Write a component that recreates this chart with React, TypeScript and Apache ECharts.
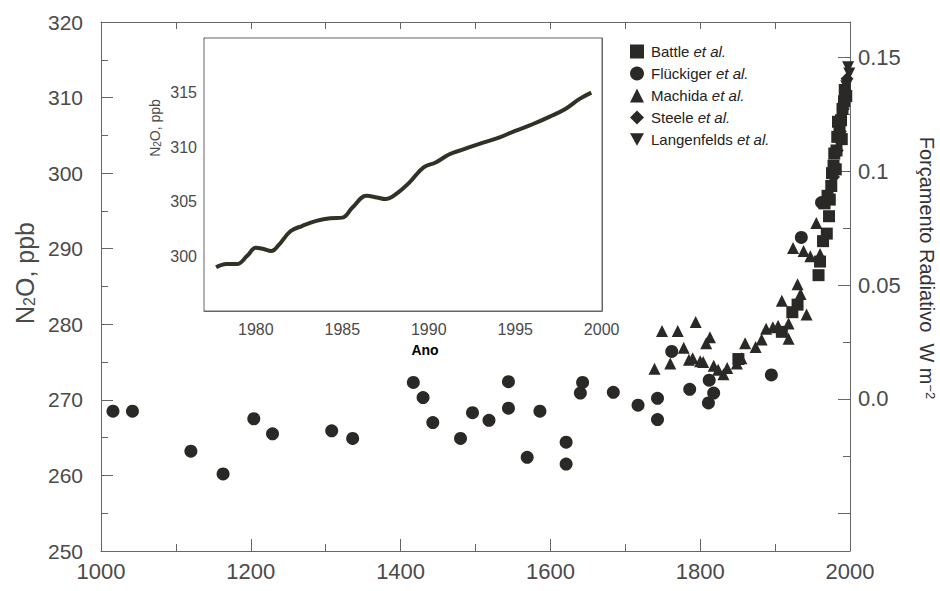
import React, { useEffect, useRef } from 'react';
import * as echarts from 'echarts';

// ---- Main panel data (year, N2O ppb) ----
const battleYears = [1851, 1909, 1923, 1930, 1958, 1960, 1964, 1969, 1966, 1970, 1972, 1973, 1975, 1976, 1978, 1979, 1981, 1982, 1983, 1984, 1986, 1988, 1989, 1990, 1992, 1993, 1995];
const battlePpb = [275.4, 279.0, 281.6, 282.6, 286.5, 288.3, 291.0, 292.0, 296.0, 297.0, 294.3, 296.5, 298.3, 300.0, 301.0, 302.6, 300.5, 303.0, 304.8, 306.8, 305.5, 307.0, 304.5, 308.5, 309.5, 311.0, 310.2];

const flueckigerYears = [1016, 1042, 1120, 1163, 1204, 1229, 1308, 1336, 1417, 1430, 1443, 1480, 1496, 1518, 1544, 1544, 1569, 1586, 1621, 1621, 1640, 1643, 1684, 1717, 1743, 1743, 1762, 1786, 1811, 1812, 1818, 1895, 1935, 1962];
const flueckigerPpb = [268.5, 268.5, 263.2, 260.2, 267.5, 265.5, 265.9, 264.9, 272.3, 270.3, 267.0, 264.9, 268.3, 267.3, 272.4, 268.9, 262.4, 268.5, 264.4, 261.5, 270.9, 272.3, 271.0, 269.3, 267.4, 270.2, 276.4, 271.4, 269.6, 272.6, 270.9, 273.3, 291.5, 296.1];

const machidaYears = [1739, 1749, 1760, 1770, 1778, 1785, 1790, 1794, 1800, 1804, 1808, 1813, 1818, 1824, 1831, 1836, 1849, 1855, 1860, 1874, 1882, 1888, 1897, 1904, 1909, 1918, 1918, 1930, 1934, 1942, 1924, 1938, 1947, 1955, 1960];
const machidaPpb = [274.1, 279.1, 274.8, 279.1, 276.9, 275.3, 275.5, 280.3, 275.1, 275.0, 277.5, 278.3, 274.5, 274.0, 273.4, 274.2, 274.8, 275.5, 277.5, 277.0, 278.0, 279.4, 279.6, 279.8, 283.1, 280.1, 278.1, 285.3, 284.0, 281.3, 290.1, 289.7, 289.0, 293.4, 289.3];

const steeleYears = [1978, 1983, 1987, 1991, 1994, 1996];
const steelePpb = [299.5, 303.0, 305.5, 308.5, 310.8, 312.5];

const langenfeldsYears = [1979, 1985, 1990, 1995, 1997.5, 1999];
const langenfeldsPpb = [300.5, 304.0, 307.8, 311.5, 314.0, 313.2];

// ---- Inset data (year, N2O ppb) ----
const insetYears = [1977.7, 1978.3, 1978.9, 1979.5, 1980.0, 1980.4, 1980.9, 1981.3, 1982.0, 1982.7, 1983.5, 1984.3, 1985.0, 1985.6, 1986.4, 1987.0, 1987.5, 1988.1, 1988.9, 1989.7, 1990.4, 1991.2, 1992.0, 1993.1, 1994.1, 1995.0, 1996.0, 1997.0, 1997.9, 1998.7, 1999.4];
const insetPpb = [299.0, 299.3, 299.3, 300.05, 300.8, 300.7, 300.5, 301.0, 302.3, 302.8, 303.25, 303.5, 303.55, 304.5, 305.55, 305.4, 305.25, 305.7, 306.8, 308.15, 308.6, 309.35, 309.8, 310.4, 310.9, 311.5, 312.1, 312.8, 313.5, 314.4, 315.0];

// ---- Legend / axis texts ----
const seriesNames = ['Battle', 'Flückiger', 'Machida', 'Steele', 'Langenfelds'];
const forcingTickLabels = [0, 0.05, 0.1, 0.15];

const pairs = (xs: number[], ys: number[]) => xs.map((x, i) => [x, ys[i]]);

const FONT = '"Liberation Sans", Arial, Helvetica, sans-serif';
const MARK = '#2b2925';
const AXIS = '#666';
const LABEL = '#4a4a4a';
const INV_TRI = 'path://M0,0L10,0L5,9Z';

const isInt = (v: number) => Math.abs(v - Math.round(v)) < 1e-6;

export default function App() {
  const ref = useRef<HTMLDivElement>(null);

  useEffect(() => {
    const chart = echarts.init(ref.current!, null, { renderer: 'svg' });

    const mainTick = { show: true, inside: true, length: 12, lineStyle: { color: AXIS } };
    const mainMinor = { show: true, splitNumber: 2, length: 7, lineStyle: { color: AXIS } };
    const axLine = { show: true, onZero: false, lineStyle: { color: AXIS, width: 1 } };
    const smallTick = { show: true, inside: true, length: 5, lineStyle: { color: AXIS } };

    const fmtForcing = (v: number) => {
      const r = Math.round(v * 1000) / 1000;
      const hit = forcingTickLabels.find((t) => Math.abs(t - r) < 1e-6);
      if (hit === undefined) return '';
      return hit === 0 ? '0.0' : String(hit);
    };

    const option: any = {
      animation: false,
      backgroundColor: '#fff',
      textStyle: { fontFamily: FONT },
      grid: [
        { left: 101, top: 22, width: 749, height: 529 },
        { left: 204, top: 38, width: 398, height: 273, show: true, backgroundColor: '#fff', borderColor: AXIS, borderWidth: 1, z: 5 },
      ],
      xAxis: [
        {
          gridIndex: 0, type: 'value', position: 'bottom', min: 1000, max: 2000, interval: 200,
          axisLine: axLine, axisTick: mainTick, minorTick: mainMinor, splitLine: { show: false },
          axisLabel: { fontSize: 22, color: LABEL, margin: 9, fontFamily: FONT, formatter: (v: number) => String(v) },
        },
        {
          gridIndex: 0, type: 'value', position: 'top', min: 1000, max: 2000, interval: 200,
          axisLine: axLine, axisTick: { ...mainTick, length: 7 }, minorTick: mainMinor, splitLine: { show: false },
          axisLabel: { show: false },
        },
        {
          gridIndex: 1, type: 'value', position: 'bottom', min: 1977, max: 2000.02, interval: 1,
          axisLine: axLine, axisTick: smallTick, splitLine: { show: false },
          axisLabel: { fontSize: 16, color: LABEL, margin: 10, fontFamily: FONT, showMinLabel: false, showMaxLabel: false, hideOverlap: false, formatter: (v: number) => (isInt(v) && Math.round(v) % 5 === 0 ? String(Math.round(v)) : '') },
        },
        {
          gridIndex: 1, type: 'value', position: 'top', min: 1977, max: 2000.02, interval: 1,
          axisLine: axLine, axisTick: smallTick, splitLine: { show: false }, axisLabel: { show: false },
        },
      ],
      yAxis: [
        {
          gridIndex: 0, type: 'value', position: 'left', min: 250, max: 320, interval: 10,
          axisLine: axLine, axisTick: mainTick, minorTick: mainMinor, splitLine: { show: false },
          axisLabel: { fontSize: 21, color: LABEL, margin: 18, fontFamily: FONT },
        },
        {
          gridIndex: 0, type: 'value', position: 'right', min: -0.0667, max: 0.1654, splitNumber: 5,
          axisLine: axLine, axisTick: mainTick, minorTick: mainMinor, splitLine: { show: false },
          axisLabel: { fontSize: 22, color: LABEL, margin: 8, fontFamily: FONT, showMinLabel: false, showMaxLabel: false, formatter: fmtForcing },
        },
        {
          gridIndex: 1, type: 'value', position: 'left', min: 295, max: 320, interval: 1,
          axisLine: axLine, axisTick: smallTick, splitLine: { show: false },
          axisLabel: { fontSize: 16, color: LABEL, margin: 7, fontFamily: FONT, formatter: (v: number) => (v % 5 === 0 && v >= 300 && v <= 315 ? String(v) : '') },
        },
        {
          gridIndex: 1, type: 'value', position: 'right', min: 295, max: 320, interval: 1,
          axisLine: axLine, axisTick: smallTick, splitLine: { show: false }, axisLabel: { show: false },
        },
      ],
      legend: {
        orient: 'vertical', left: 625, top: 39, itemWidth: 14, itemHeight: 14, itemGap: 7,
        data: [
          { name: seriesNames[0], icon: 'rect' },
          { name: seriesNames[1], icon: 'circle' },
          { name: seriesNames[2], icon: 'triangle' },
          { name: seriesNames[3], icon: 'diamond' },
          { name: seriesNames[4], icon: INV_TRI },
        ],
        formatter: (name: string) => `${name} {i|et al.}`,
        textStyle: { fontSize: 15, color: '#222', fontFamily: FONT, padding: [0, 0, 0, 2], rich: { i: { fontSize: 15, fontStyle: 'italic', color: '#222', fontFamily: FONT } } },
      },
      graphic: [
        {
          type: 'text', x: 25, y: 273, rotation: Math.PI / 2,
          style: { text: 'N{s|2}O, ppb', fontSize: 25, fontFamily: FONT, fill: LABEL, align: 'center', verticalAlign: 'middle', rich: { s: { fontSize: 16, fontFamily: FONT, fill: LABEL, verticalAlign: 'bottom', lineHeight: 16 } } },
        },
        {
          type: 'text', x: 927, y: 268, rotation: -Math.PI / 2,
          style: { text: 'Forçamento Radiativo  W m{u|−2}', fontSize: 20, fontFamily: FONT, fill: '#333', align: 'center', verticalAlign: 'middle', rich: { u: { fontSize: 13, fontFamily: FONT, fill: '#333', verticalAlign: 'top', lineHeight: 13 } } },
        },
        {
          type: 'text', x: 155, y: 128, rotation: Math.PI / 2, z: 10,
          style: { text: 'N{s|2}O, ppb', fontSize: 14, fontFamily: FONT, fill: LABEL, align: 'center', verticalAlign: 'middle', rich: { s: { fontSize: 10, fontFamily: FONT, fill: LABEL, verticalAlign: 'bottom', lineHeight: 10 } } },
        },
        {
          type: 'text', x: 425, y: 350, z: 10,
          style: { text: 'Ano', fontSize: 14, fontWeight: 'bold', fontFamily: FONT, fill: '#000', align: 'center', verticalAlign: 'middle' },
        },
      ],
      series: [
        { name: seriesNames[0], type: 'scatter', xAxisIndex: 0, yAxisIndex: 0, symbol: 'rect', symbolSize: 12, clip: false, itemStyle: { color: MARK, opacity: 1 }, data: pairs(battleYears, battlePpb) },
        { name: seriesNames[1], type: 'scatter', xAxisIndex: 0, yAxisIndex: 0, symbol: 'circle', symbolSize: 13, clip: false, itemStyle: { color: MARK, opacity: 1 }, data: pairs(flueckigerYears, flueckigerPpb) },
        { name: seriesNames[2], type: 'scatter', xAxisIndex: 0, yAxisIndex: 0, symbol: 'triangle', symbolSize: 12, clip: false, itemStyle: { color: MARK, opacity: 1 }, data: pairs(machidaYears, machidaPpb) },
        { name: seriesNames[3], type: 'scatter', xAxisIndex: 0, yAxisIndex: 0, symbol: 'diamond', symbolSize: 13, clip: false, itemStyle: { color: MARK, opacity: 1 }, data: pairs(steeleYears, steelePpb) },
        { name: seriesNames[4], type: 'scatter', xAxisIndex: 0, yAxisIndex: 0, symbol: INV_TRI, symbolSize: 12, clip: false, itemStyle: { color: MARK, opacity: 1 }, data: pairs(langenfeldsYears, langenfeldsPpb) },
        {
          name: 'inset', type: 'line', xAxisIndex: 2, yAxisIndex: 2, smooth: 0.4, symbol: 'none', z: 10,
          lineStyle: { color: '#2e3326', width: 4 }, data: pairs(insetYears, insetPpb),
        },
      ],
    };

    chart.setOption(option);
    return () => chart.dispose();
  }, []);

  return <div ref={ref} style={{ position: 'fixed', left: 0, top: 0, width: 940, height: 591 }} />;
}
